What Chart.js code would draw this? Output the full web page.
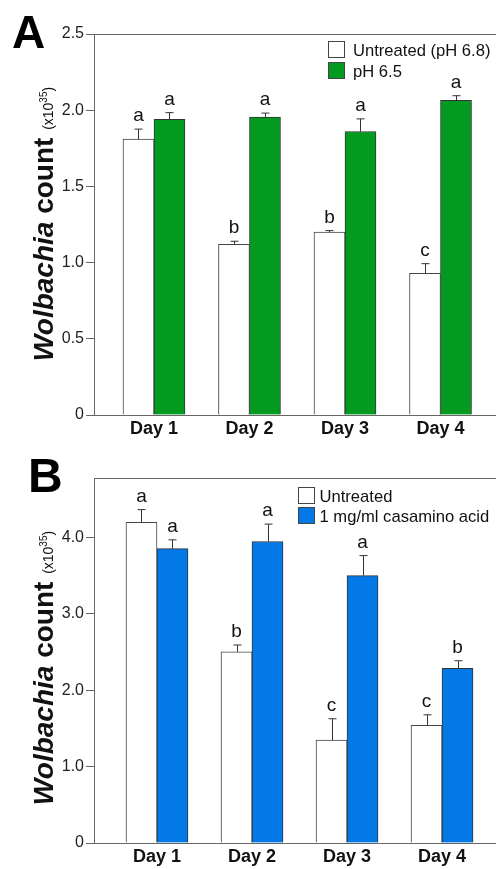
<!DOCTYPE html>
<html>
<head>
<meta charset="utf-8">
<script src="https://cdn.jsdelivr.net/npm/chart.js@4.4.1/dist/chart.umd.min.js"></script>
<style>
  html, body { margin: 0; padding: 0; background: #fff; }
  canvas { position: absolute; left: 0; }
</style>
</head>
<body>
<canvas id="chartA" width="496" height="440" style="top:0"></canvas>
<canvas id="chartB" width="496" height="429" style="top:440px"></canvas>
<script>
const days = ['Day 1', 'Day 2', 'Day 3', 'Day 4'];

// panel A (x10^35)
const untreatedA = [1.81, 1.12, 1.20, 0.93];
const untreatedAErr = [0.066, 0.02, 0.01, 0.063];
const ph65 = [1.94, 1.955, 1.86, 2.065];
const ph65Err = [0.044, 0.026, 0.083, 0.03];
const lettersUntreatedA = ['a', 'b', 'b', 'c'];
const lettersPh65 = ['a', 'a', 'a', 'a'];
const ticksA = [0, 0.5, 1.0, 1.5, 2.0, 2.5];

// panel B (x10^35)
const untreatedB = [4.2, 2.505, 1.347, 1.54];
const untreatedBErr = [0.166, 0.088, 0.28, 0.139];
const casamino = [3.856, 3.948, 3.502, 2.287];
const casaminoErr = [0.114, 0.228, 0.262, 0.1];
const lettersUntreatedB = ['a', 'b', 'c', 'c'];
const lettersCasamino = ['a', 'a', 'a', 'b'];
const ticksB = [0, 1.0, 2.0, 3.0, 4.0];

const FONT = '"Liberation Sans", Arial, sans-serif';
const AXIS = '#666';

const points = (vals) => vals.map((v, i) => ({ x: i + 1, y: v }));

// error bars, letters, frame, legend, axis title and panel letter
const decor = {
    id: 'decor',
    afterDatasetsDraw(chart) {
        const ctx = chart.ctx;
        const y = chart.scales.y;
        ctx.save();
        chart.data.datasets.forEach((ds, di) => {
            chart.getDatasetMeta(di).data.forEach((bar, i) => {
                const top = y.getPixelForValue(ds.data[i].y + ds.errors[i]);
                const x = Math.round(bar.x) + 0.5;
                ctx.strokeStyle = '#333';
                ctx.lineWidth = 1;
                ctx.beginPath();
                ctx.moveTo(x, bar.y);
                ctx.lineTo(x, top);
                ctx.moveTo(x - 4, top);
                ctx.lineTo(x + 4, top);
                ctx.stroke();
                ctx.fillStyle = '#111';
                ctx.font = '19px ' + FONT;
                ctx.textAlign = 'center';
                ctx.textBaseline = 'alphabetic';
                ctx.fillText(ds.letters[i], bar.x, top - 8);
            });
        });
        ctx.restore();
    },
    afterDraw(chart, args, opts) {
        const ctx = chart.ctx;
        const area = chart.chartArea;
        ctx.save();

        // top frame line
        ctx.strokeStyle = AXIS;
        ctx.lineWidth = 1;
        ctx.beginPath();
        ctx.moveTo(area.left, Math.round(area.top) + 0.5);
        ctx.lineTo(chart.width, Math.round(area.top) + 0.5);
        ctx.stroke();

        // legend
        chart.data.datasets.forEach((ds, i) => {
            const by = opts.legend.y + i * opts.legend.step;
            ctx.fillStyle = ds.backgroundColor;
            ctx.fillRect(opts.legend.x, by, 17, 17);
            ctx.strokeStyle = '#444';
            ctx.strokeRect(opts.legend.x + 0.5, by + 0.5, 16, 16);
            ctx.fillStyle = '#111';
            ctx.font = '16.6px ' + FONT;
            ctx.textAlign = 'left';
            ctx.textBaseline = 'alphabetic';
            ctx.fillText(ds.label, opts.legend.x + opts.legend.gap, by + 15);
        });

        // y axis title
        const parts = [
            { t: 'Wolbachia', f: 'italic bold 28px ' + FONT, dy: 0 },
            { t: ' count', f: 'bold 28px ' + FONT, dy: 0 },
            { t: '  (x10', f: '14px ' + FONT, dy: 0 },
            { t: '35', f: '10px ' + FONT, dy: -6 },
            { t: ')', f: '14px ' + FONT, dy: 0 }
        ];
        let total = 0;
        parts.forEach(p => { ctx.font = p.f; p.w = ctx.measureText(p.t).width; total += p.w; });
        ctx.translate(53, opts.titleY);
        ctx.rotate(-Math.PI / 2);
        ctx.fillStyle = '#111';
        ctx.textAlign = 'left';
        let px = -total / 2;
        parts.forEach(p => {
            ctx.font = p.f;
            ctx.fillText(p.t, px, p.dy);
            px += p.w;
        });
        ctx.setTransform(1, 0, 0, 1, 0, 0);

        // panel letter
        ctx.fillStyle = '#000';
        ctx.font = 'bold ' + opts.panel.size + 'px ' + FONT;
        ctx.textAlign = 'left';
        ctx.fillText(opts.panel.text, opts.panel.x, opts.panel.y);
        ctx.restore();
    }
};

function makeChart(id, cfg) {
    return new Chart(document.getElementById(id), {
        type: 'bar',
        data: {
            datasets: [{
                label: cfg.labels[0],
                data: points(cfg.values[0]),
                errors: cfg.errors[0],
                letters: cfg.letters[0],
                backgroundColor: '#ffffff',
                borderColor: '#444',
                borderWidth: 1
            }, {
                label: cfg.labels[1],
                data: points(cfg.values[1]),
                errors: cfg.errors[1],
                letters: cfg.letters[1],
                backgroundColor: cfg.color,
                borderColor: '#333',
                borderWidth: 1
            }]
        },
        options: {
            responsive: false,
            animation: false,
            barThickness: 31,
            layout: {
                padding: { top: cfg.padTop, left: 0, right: 0, bottom: 0 }
            },
            plugins: {
                legend: { display: false },
                tooltip: { enabled: false },
                decor: {
                    legend: cfg.legend,
                    titleY: cfg.titleY,
                    panel: cfg.panel
                }
            },
            scales: {
                x: {
                    type: 'linear',
                    offset: false,
                    min: cfg.xRange[0],
                    max: cfg.xRange[1],
                    afterBuildTicks: (s) => { s.ticks = days.map((d, i) => ({ value: i + 1 })); },
                    afterFit: (s) => { s.height = cfg.xHeight; },
                    grid: { display: false, drawTicks: false, offset: false },
                    border: { display: true, color: AXIS, width: 1 },
                    ticks: {
                        callback: (v) => days[v - 1] || '',
                        font: { family: FONT, size: 18, weight: 'bold' },
                        color: '#111',
                        padding: 3,
                        maxRotation: 0,
                        autoSkip: false
                    }
                },
                y: {
                    min: 0,
                    max: cfg.yMax,
                    afterBuildTicks: (s) => { s.ticks = cfg.ticks.map(v => ({ value: v })); },
                    afterFit: (s) => { s.width = 94; },
                    grid: { drawOnChartArea: false, drawTicks: true, tickLength: 8, color: AXIS },
                    border: { display: true, color: AXIS, width: 1 },
                    ticks: {
                        callback: (v) => v === 0 ? '0' : v.toFixed(1),
                        font: { family: FONT, size: 16 },
                        color: '#222',
                        padding: 2
                    }
                }
            }
        },
        plugins: [decor]
    });
}

makeChart('chartA', {
    labels: ['Untreated (pH 6.8)', 'pH 6.5'],
    values: [untreatedA, ph65],
    errors: [untreatedAErr, ph65Err],
    letters: [lettersUntreatedA, lettersPh65],
    color: '#039b1f',
    ticks: ticksA,
    yMax: 2.5,
    xRange: [0.372, 4.581],
    padTop: 34,
    xHeight: 25,
    legend: { x: 328, y: 41, step: 21, gap: 25 },
    titleY: 224,
    panel: { text: 'A', x: 12, y: 48, size: 46 }
});

makeChart('chartB', {
    labels: ['Untreated', '1 mg/ml casamino acid'],
    values: [untreatedB, casamino],
    errors: [untreatedBErr, casaminoErr],
    letters: [lettersUntreatedB, lettersCasamino],
    color: '#0379e8',
    ticks: ticksB,
    yMax: 4.78,
    xRange: [0.337, 4.568],
    padTop: 38,
    xHeight: 26,
    legend: { x: 298, y: 47, step: 20, gap: 21.5 },
    titleY: 228,
    panel: { text: 'B', x: 28, y: 52, size: 48 }
});
</script>
</body>
</html>
